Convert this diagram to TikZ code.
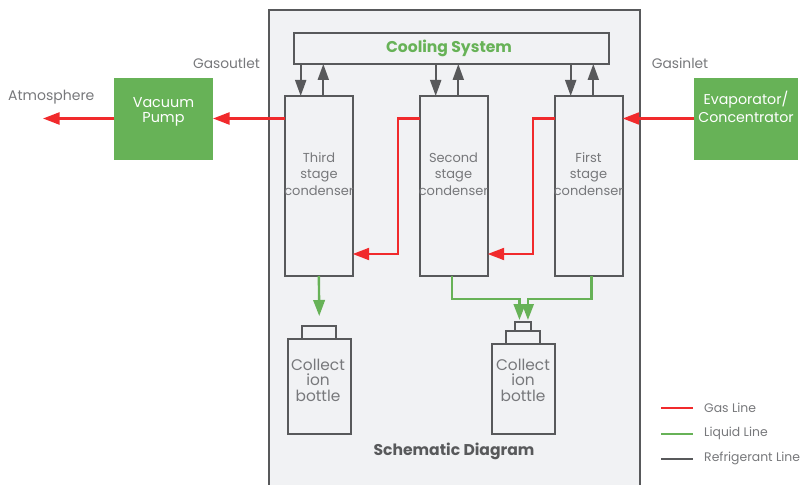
\documentclass[tikz,border=0pt]{standalone}
\usepackage{fontspec}
\setmainfont{Poppins}
\usetikzlibrary{arrows.meta}
\definecolor{dk}{HTML}{58595B}
\definecolor{txt}{HTML}{77787B}
\definecolor{rd}{HTML}{F12A2C}
\definecolor{gr}{HTML}{67B257}
\definecolor{pan}{HTML}{F1F2F4}
\tikzset{
  x=1pt,y=-1pt,
  box/.style={draw=dk,line width=2pt,fill=pan,inner sep=0pt,outer sep=0pt,anchor=north west},
  solid box/.style={fill=gr,text=white,inner sep=0pt,outer sep=0pt,anchor=north west},
  lbl/.style={text=txt,inner sep=0pt,align=center,font=\fontsize{13}{16.5}\selectfont},
  small/.style={text=txt,inner sep=0pt,align=center,font=\fontsize{12.4}{16}\selectfont},
  gasline/.style={draw=rd,line width=2.2pt,-{Triangle[length=16.5pt,width=12pt]}},
  liqline/.style={draw=gr,line width=2.4pt,-{Triangle[length=16pt,width=11.5pt]}},
  refline/.style={draw=dk,line width=2pt,-{Triangle[length=16pt,width=11pt]}},
  legline/.style={line width=2pt},
}
\begin{document}
\begin{tikzpicture}
\useasboundingbox (0,0) rectangle (802,484);
\begin{scope}
\clip (0,0) rectangle (802,484);
\node[box,minimum width=371.5pt,minimum height=490pt] (panel) at (268.5,10.5) {};
\end{scope}
\node[box,minimum width=315pt,minimum height=31pt] (cool) at (294,33) {};
\node[text=gr,inner sep=0pt,font=\fontsize{15.6}{18}\selectfont\bfseries] (cooltxt) at (449,48.5) {Cooling System};
\node[box,minimum width=67.7pt,minimum height=180pt] (third) at (285,96) {};
\node[box,minimum width=67.7pt,minimum height=180pt] (second) at (420,96) {};
\node[box,minimum width=67.7pt,minimum height=180pt] (first) at (555,96) {};
\node[lbl] (t3) at (319,174) {Third\\stage\\condenser};
\node[lbl] (t2) at (453.5,174) {Second\\stage\\condenser};
\node[lbl] (t1) at (588.5,174) {First\\stage\\condenser};
\node[solid box,minimum width=99pt,minimum height=82pt] (pump) at (114,78) {};
\node[lbl,text=white,font=\fontsize{14.4}{15}\selectfont] (pumptxt) at (163.5,112) {Vacuum\\Pump};
\node[solid box,minimum width=104pt,minimum height=82pt] (evap) at (694,78) {};
\node[lbl,text=white,font=\fontsize{14.2}{18}\selectfont] (evaptxt) at (746,106.5) {Evaporator/\\Concentrator};
\node[lbl,font=\fontsize{14}{15}\selectfont,anchor=west] (atm) at (8,97) {Atmosphere};
\coordinate (atmend) at (43,118.5);
\node[lbl,font=\fontsize{13.8}{15}\selectfont] (gout) at (226.5,63.5) {Gasoutlet};
\node[lbl,font=\fontsize{13.8}{15}\selectfont] (gin) at (680,63.5) {Gasinlet};
% refrigerant
\foreach \n in {third,second,first}{
  \draw[refline] ([xshift=15.7pt]\n.north west |- cool.south) -- ([xshift=15.7pt]\n.north west);
  \draw[refline] ([xshift=38.3pt]\n.north west) -- ([xshift=38.3pt]\n.north west |- cool.south);
}
% gas
\draw[gasline] (third.west |- pump.east) ++(0,-0.5) coordinate (a3) -- (a3 -| pump.east);
\draw[gasline] (a3 -| pump.west) -- (atmend);
\draw[gasline] (a3 -| evap.west) -- (a3 -| first.east);
\draw[gasline] (a3 -| second.west) -- ++(-22,0) |- ([yshift=-158pt]third.north east);
\draw[gasline] (a3 -| first.west) -- ++(-22,0) |- ([yshift=-158pt]second.north east);
% bottles
\node[box,minimum width=63.5pt,minimum height=95pt] (b1) at (287.5,339) {};
\node[box,minimum width=34pt,minimum height=13pt,anchor=south] (cap1) at (b1.north) {};
\node[box,minimum width=63.5pt,minimum height=90pt] (b2) at (491.7,344) {};
\node[box,minimum width=34pt,minimum height=13.5pt,anchor=south] (cap2) at (b2.north) {};
\node[box,minimum width=16pt,minimum height=9pt,anchor=south] (top2) at (cap2.north) {};
\node[lbl,font=\fontsize{15.4}{15.5}\selectfont] (bt1) at (318,380) {Collect\\ion\\bottle};
\node[lbl,font=\fontsize{15.4}{15.5}\selectfont] (bt2) at (523,380) {Collect\\ion\\bottle};
% liquid
\draw[liqline] (third.south) -- ([yshift=10pt]cap1.north);
\draw[liqline] ([xshift=-2pt]second.south) |- ([xshift=-4pt,yshift=22.5pt]top2.north) -- ([xshift=-4pt,yshift=1.5pt]top2.north);
\draw[liqline] ([xshift=2.5pt]first.south) |- ([xshift=4.5pt,yshift=22.5pt]top2.north) -- ([xshift=4.5pt,yshift=1.5pt]top2.north);
\node[text=dk,inner sep=0pt,font=\fontsize{15.6}{18}\selectfont\bfseries] (schem) at (454,451) {Schematic Diagram};
% legend
\coordinate (l1a) at (661,408); \coordinate (l1b) at (693,408);
\coordinate (l2a) at (661,433.5); \coordinate (l2b) at (693,433.5);
\coordinate (l3a) at (661,458.5); \coordinate (l3b) at (693,458.5);
\draw[legline,rd] (l1a) -- (l1b);
\draw[legline,gr] (l2a) -- (l2b);
\draw[legline,dk] (l3a) -- (l3b);
\node[small,anchor=west] (k1) at (704,407.5) {Gas Line};
\node[small,anchor=west] (k2) at (704,433.5) {Liquid Line};
\node[small,anchor=west] (k3) at (704,458.5) {Refrigerant Line};
\end{tikzpicture}
\end{document}
